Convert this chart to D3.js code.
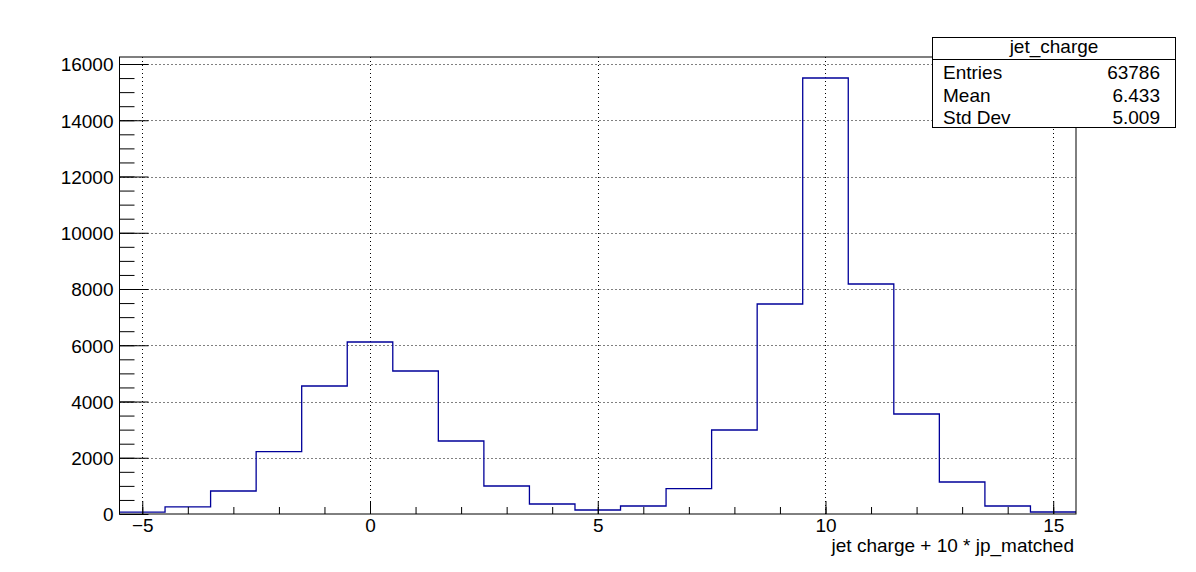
<!DOCTYPE html>
<html>
<head>
<meta charset="utf-8">
<script src="https://cdn.jsdelivr.net/npm/d3@7"></script>
<style>
  html, body { margin: 0; padding: 0; background: #ffffff; }
  svg { display: block; }
  text { font-family: "Liberation Sans", Arial, Helvetica, sans-serif; fill: #000; }
</style>
</head>
<body>
<svg id="chart" width="1196" height="572"></svg>
<script>
// ---- data ----
const binCenters = [-5, -4, -3, -2, -1, 0, 1, 2, 3, 4, 5, 6, 7, 8, 9, 10, 11, 12, 13, 14, 15];
const binCounts  = [70, 250, 818, 2215, 4551, 6116, 5084, 2595, 995, 355, 142, 284, 900, 2987, 7467, 15502, 8178, 3556, 1138, 284, 71];
const xMajorTicks = [-5, 0, 5, 10, 15];
const xMinorTicks = [-5, -4, -3, -2, -1, 0, 1, 2, 3, 4, 5, 6, 7, 8, 9, 10, 11, 12, 13, 14, 15];
const yMajorTicks = [0, 2000, 4000, 6000, 8000, 10000, 12000, 14000, 16000];
const yMinorTicks = d3.range(0, 16001, 500);
const statsTitle = "jet_charge";
const statsLabels = ["Entries", "Mean", "Std Dev"];
const statsValues = ["63786", "6.433", "5.009"];
const xTitle = "jet charge + 10 * jp_matched";
const binWidth = 1;
const xDomain = [-5.5, 15.5];
const yDomain = [0, 16249];

// ---- layout ----
const svg = d3.select("#chart");
const frame = { left: 119.5, right: 1076, top: 57, bottom: 514 };
const x = d3.scaleLinear().domain(xDomain).range([frame.left, frame.right]);
const y = d3.scaleLinear().domain(yDomain).range([frame.bottom, frame.top]);
const fontSize = 19;

// grid (dotted)
const grid = svg.append("g").attr("stroke", "#000").attr("stroke-width", 1).attr("stroke-dasharray", "1,3");
grid.selectAll("line.gx").data(xMajorTicks).enter().append("line")
  .attr("x1", d => Math.round(x(d)) + 0.5).attr("x2", d => Math.round(x(d)) + 0.5)
  .attr("y1", frame.top).attr("y2", frame.bottom);
grid.selectAll("line.gy").data(yMajorTicks.filter(d => d > 0)).enter().append("line")
  .attr("y1", d => Math.round(y(d)) + 0.5).attr("y2", d => Math.round(y(d)) + 0.5)
  .attr("x1", frame.left).attr("x2", frame.right);

// histogram outline
const pts = binCenters.map((c, i) => [c - binWidth / 2, binCounts[i]]);
pts.push([binCenters[binCenters.length - 1] + binWidth / 2, binCounts[binCounts.length - 1]]);
const line = d3.line().x(d => x(d[0])).y(d => y(d[1])).curve(d3.curveStepAfter);
svg.append("path").datum(pts)
  .attr("d", line).attr("fill", "none").attr("stroke", "#000099").attr("stroke-width", 1.3);

// axes
const xAxisMinor = d3.axisBottom(x).tickValues(xMinorTicks).tickSize(-7).tickSizeOuter(0).tickFormat("");
const xAxisMajor = d3.axisBottom(x).tickValues(xMajorTicks).tickSize(-13).tickSizeOuter(0).tickPadding(5);
const yAxisMinor = d3.axisLeft(y).tickValues(yMinorTicks).tickSize(-15).tickSizeOuter(0).tickFormat("");
const yAxisMajor = d3.axisLeft(y).tickValues(yMajorTicks).tickSize(-29).tickSizeOuter(0).tickFormat(d3.format("d"));

function styleAxis(g) {
  g.select(".domain").remove();
  g.selectAll("line").attr("stroke", "#000").attr("stroke-width", 1);
  g.selectAll("text").attr("font-size", fontSize).attr("font-family", '"Liberation Sans", Arial, sans-serif').attr("fill", "#000");
}
svg.append("g").attr("transform", `translate(0,${frame.bottom})`).call(xAxisMinor).call(styleAxis);
svg.append("g").attr("transform", `translate(0,${frame.bottom})`).call(xAxisMajor).call(styleAxis);
svg.append("g").attr("transform", `translate(${frame.left},0)`).call(yAxisMinor).call(styleAxis);
const yg = svg.append("g").attr("transform", `translate(${frame.left},0)`).call(yAxisMajor).call(styleAxis);
yg.selectAll("text").attr("x", -6).attr("dy", "0.36em");

// frame
svg.append("rect")
  .attr("x", frame.left).attr("y", frame.top)
  .attr("width", frame.right - frame.left).attr("height", frame.bottom - frame.top)
  .attr("fill", "none").attr("stroke", "#000").attr("stroke-width", 1);

// x axis title
svg.append("text").attr("x", frame.right - 2).attr("y", 552)
  .attr("text-anchor", "end").attr("font-size", fontSize).text(xTitle);

// stats box
const box = { x: 932.5, y: 37.5, w: 243, h: 90, sep: 59.5 };
svg.append("rect").attr("x", box.x).attr("y", box.y).attr("width", box.w).attr("height", box.h)
  .attr("fill", "#fff").attr("stroke", "#000").attr("stroke-width", 1);
svg.append("line").attr("x1", box.x).attr("x2", box.x + box.w).attr("y1", box.sep).attr("y2", box.sep)
  .attr("stroke", "#000").attr("stroke-width", 1);
svg.append("text").attr("x", box.x + box.w / 2).attr("y", 53).attr("text-anchor", "middle")
  .attr("font-size", fontSize).text(statsTitle);
const rowY = d3.scalePoint().domain(statsLabels).range([79, 124]);
svg.selectAll("text.slab").data(statsLabels).enter().append("text")
  .attr("x", 943).attr("y", d => rowY(d)).attr("font-size", fontSize).text(d => d);
svg.selectAll("text.sval").data(statsValues).enter().append("text")
  .attr("x", 1160).attr("y", (d, i) => rowY(statsLabels[i])).attr("text-anchor", "end")
  .attr("font-size", fontSize).text(d => d);
</script>
</body>
</html>
